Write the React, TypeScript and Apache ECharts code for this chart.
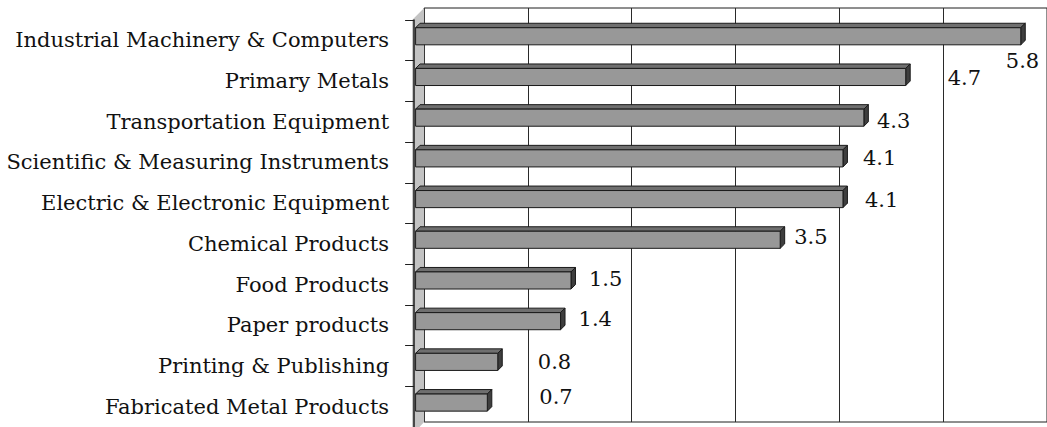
import { useEffect, useRef } from "react";
import * as echarts from "echarts";

// Industries, top to bottom
const categories = [
  "Industrial Machinery & Computers",
  "Primary Metals",
  "Transportation Equipment",
  "Scientific & Measuring Instruments",
  "Electric & Electronic Equipment",
  "Chemical Products",
  "Food Products",
  "Paper products",
  "Printing & Publishing",
  "Fabricated Metal Products",
];

const values = [5.8, 4.7, 4.3, 4.1, 4.1, 3.5, 1.5, 1.4, 0.8, 0.7];

const axisMin = 0;
const axisMax = 6;
const axisStep = 1;

// Per-label placement tweaks [dx from bar end, dy from row centre], in px
const labelNudge: [number, number][] = [
  [-15, 21],
  [42, -3],
  [13, -1],
  [20, -4],
  [22, -3],
  [14, -7],
  [18, -6],
  [18, -6],
  [40, -4],
  [52, -10],
];

const FONT = "'DejaVu Serif', serif";
const FONT_SIZE = 21;

// Layout of the pseudo-3D box
const W = 1047;
const H = 427;
const unit = 104.6;
const frontLeft = 414.1;
const frontTop = 20;
const rowsHeight = 415;
const depthX = 10;
const depthY = 12;

export default function App() {
  const ref = useRef<HTMLDivElement>(null);

  useEffect(() => {
    if (!ref.current) return;
    const chart = echarts.init(ref.current, undefined, { renderer: "svg" });

    const span = (axisMax - axisMin) * unit;
    const backLeft = frontLeft + depthX;
    const backTop = frontTop - depthY;
    const backHeight = rowsHeight - 1;
    const wallFront = frontLeft - 2;

    chart.setOption({
      animation: false,
      backgroundColor: "#ffffff",
      grid: [
        {
          left: frontLeft,
          top: frontTop,
          width: span,
          height: rowsHeight,
          containLabel: false,
        },
        {
          left: backLeft,
          top: backTop,
          width: span,
          height: backHeight,
          show: true,
          backgroundColor: "#ffffff",
          borderColor: "#1e1e1e",
          borderWidth: 1,
          z: -1,
        },
      ],
      xAxis: [
        {
          gridIndex: 0,
          type: "value",
          min: axisMin,
          max: axisMax,
          interval: axisStep,
          show: false,
        },
        {
          gridIndex: 1,
          type: "value",
          min: axisMin,
          max: axisMax,
          interval: axisStep,
          axisLabel: { show: false },
          axisTick: { show: false },
          axisLine: { show: false },
          splitLine: { show: true, lineStyle: { color: "#2a2a2a", width: 1 } },
        },
      ],
      yAxis: [
        {
          gridIndex: 0,
          type: "category",
          data: categories,
          inverse: true,
          offset: 2,
          z: 5,
          axisLine: { show: true, lineStyle: { color: "#1e1e1e", width: 1.5 } },
          axisTick: { show: true, length: 9, lineStyle: { color: "#1e1e1e", width: 1 } },
          axisLabel: {
            margin: 23,
            color: "#111111",
            fontFamily: FONT,
            fontSize: FONT_SIZE,
          },
          splitLine: { show: false },
        },
        {
          gridIndex: 1,
          type: "value",
          show: false,
          splitLine: { show: false },
        },
      ],
      graphic: [
        {
          type: "polygon",
          z: 2,
          silent: true,
          shape: {
            points: [
              [wallFront, frontTop],
              [backLeft, backTop],
              [backLeft, backTop + backHeight],
              [wallFront, frontTop + rowsHeight],
            ],
          },
          style: { fill: "#c3c3c3", stroke: "none" },
        },
      ],
      series: [
        {
          type: "custom",
          xAxisIndex: 0,
          yAxisIndex: 0,
          z: 4,
          encode: { x: 0, y: 1 },
          data: values.map((v, i) => [v, i]),
          renderItem: (params: any, api: any) => {
            const v = api.value(0);
            const idx = api.value(1);
            const start = api.coord([0, idx]);
            const end = api.coord([v, idx]);
            const band = api.size([0, 1])[1];
            const h = band * 0.42;
            const yc = end[1] - band * 0.1;
            const yT = yc - h / 2;
            const yB = yc + h / 2;
            const xL = start[0] + 1.5;
            const xR = end[0];
            const d = band * 0.11;
            const stroke = { stroke: "#1a1a1a", lineWidth: 1 };
            const nudge = labelNudge[idx] || [15, 0];
            return {
              type: "group",
              children: [
                {
                  type: "polygon",
                  shape: { points: [[xL, yT], [xL + d, yT - d], [xR + d, yT - d], [xR, yT]] },
                  style: { fill: "#6f6f6f", ...stroke },
                },
                {
                  type: "polygon",
                  shape: { points: [[xR, yT], [xR + d, yT - d], [xR + d, yB - d], [xR, yB]] },
                  style: { fill: "#3e3e3e", ...stroke },
                },
                {
                  type: "rect",
                  shape: { x: xL, y: yT, width: xR - xL, height: h },
                  style: { fill: "#989898", ...stroke },
                },
                {
                  type: "text",
                  x: xR + nudge[0],
                  y: end[1] + nudge[1],
                  style: {
                    text: String(v),
                    fill: "#111111",
                    font: `${FONT_SIZE}px ${FONT}`,
                    align: "left",
                    verticalAlign: "middle",
                  },
                },
              ],
            };
          },
        },
      ],
    });

    return () => chart.dispose();
  }, []);

  return (
    <div
      ref={ref}
      style={{ position: "fixed", left: 0, top: 0, width: W, height: H }}
    />
  );
}
